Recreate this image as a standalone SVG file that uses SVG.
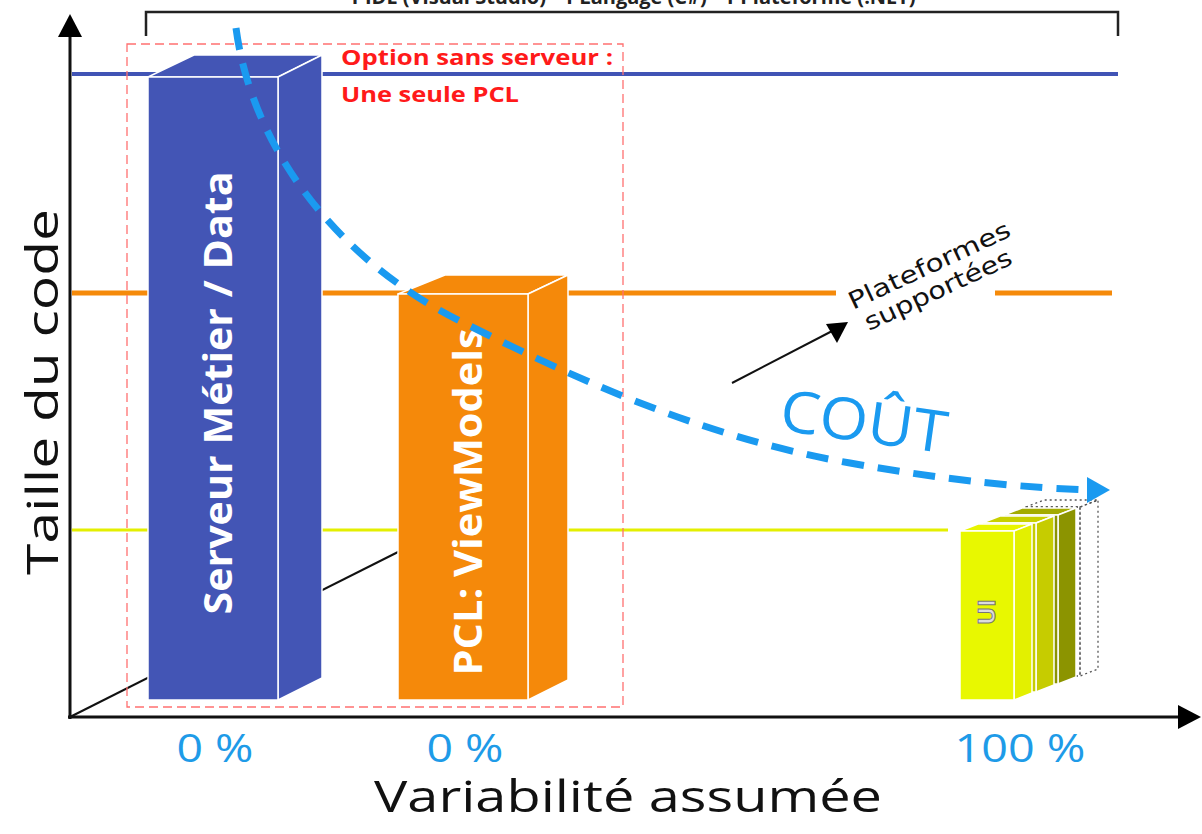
<svg xmlns="http://www.w3.org/2000/svg" width="1202" height="834" viewBox="0 0 1202 834">
<defs>
<style>
.sans{font-family:"Open Sans","Noto Sans","Liberation Sans",sans-serif;}
.bar{stroke:#ffffff;stroke-width:1.5;stroke-linejoin:round;}
.lbl{font-family:"Open Sans","Noto Sans","Liberation Sans",sans-serif;font-weight:bold;fill:#ffffff;}
.pct{font-family:"Open Sans","Noto Sans","Liberation Sans",sans-serif;fill:#1e9be8;font-size:38px;}
.red{font-family:"Open Sans","Noto Sans","Liberation Sans",sans-serif;font-weight:bold;fill:#ff1a1a;font-size:21px;}
.plat{font-family:"DejaVu Sans","Liberation Sans",sans-serif;font-size:24px;fill:#111;}
</style>
</defs>
<rect width="1202" height="834" fill="#ffffff"/>

<!-- top bracket and clipped heading -->
<g id="bracket">
<path d="M146,36 V12 H1118 V36" fill="none" stroke="#222" stroke-width="2.5"/>
<text class="sans" x="632" y="4" font-size="20" font-weight="bold" text-anchor="middle" fill="#222">1 IDE (Visual Studio) - 1 Langage (C#) - 1 Plateforme (.NET)</text>
</g>

<!-- level lines -->
<g id="levels">
<line x1="72" y1="74" x2="1118" y2="74" stroke="#4154b5" stroke-width="4"/>
<line x1="72" y1="293" x2="836" y2="293" stroke="#f58a0a" stroke-width="5"/>
<line x1="995" y1="293" x2="1112" y2="293" stroke="#f58a0a" stroke-width="5"/>
<line x1="72" y1="530" x2="948" y2="530" stroke="#e4ef00" stroke-width="3"/>
<line x1="70" y1="717" x2="400" y2="551" stroke="#111" stroke-width="2"/>
</g>

<!-- red dashed zone -->
<g id="zone">
<rect x="127" y="44" width="496" height="663" fill="none" stroke="#ff7070" stroke-width="1.3" stroke-dasharray="9 5"/>
<text class="red" x="341" y="65" textLength="272" lengthAdjust="spacingAndGlyphs">Option sans serveur :</text>
<text class="red" x="341" y="102" textLength="178" lengthAdjust="spacingAndGlyphs">Une seule PCL</text>
</g>

<!-- Bar 1 -->
<g id="bar-serveur">
<polygon class="bar" points="148,77 194,55 322,55 278,77" fill="#4355b5"/>
<polygon class="bar" points="278,77 322,55 322,678 278,700" fill="#4355b5"/>
<rect class="bar" x="148" y="77" width="130" height="623" fill="#4355b5"/>
<text class="lbl" transform="translate(232,393) rotate(-90)" font-size="40" text-anchor="middle" textLength="443" lengthAdjust="spacingAndGlyphs">Serveur Métier / Data</text>
</g>

<!-- Bar 2 -->
<g id="bar-pcl">
<polygon class="bar" points="398,294 445,275 568,275 528,294" fill="#f5890a"/>
<polygon class="bar" points="528,294 568,275 568,680 528,700" fill="#f5890a"/>
<rect class="bar" x="398" y="294" width="130" height="406" fill="#f5890a"/>
<text class="lbl" transform="translate(482,502) rotate(-90)" font-size="40" text-anchor="middle" textLength="347" lengthAdjust="spacingAndGlyphs">PCL: ViewModels</text>
</g>

<!-- UI bars -->
<g id="bar-ui">
<g fill="none" stroke="#555" stroke-width="1.3" stroke-dasharray="2 3">
<polygon points="1026,507 1044,500 1098,500 1080,507"/>
<polygon points="1080,507 1098,500 1098,669 1080,676"/>
<rect x="1026" y="507" width="54" height="169"/>
</g>
<polygon class="bar" points="1004,515 1022,508 1076,508 1058,515" fill="#a3ab00"/>
<polygon class="bar" points="1058,515 1076,508 1076,677 1058,684" fill="#8c9400"/>
<rect class="bar" x="1004" y="515" width="54" height="169" fill="#8c9400"/>
<polygon class="bar" points="982,523 1000,516 1054,516 1036,523" fill="#c8d000"/>
<polygon class="bar" points="1036,523 1054,516 1054,685 1036,692" fill="#c6cc00"/>
<rect class="bar" x="982" y="523" width="54" height="169" fill="#c6cc00"/>
<polygon class="bar" points="960,531 978,524 1032,524 1014,531" fill="#e8f500"/>
<polygon class="bar" points="1014,531 1032,524 1032,693 1014,700" fill="#e3f000"/>
<rect class="bar" x="960" y="531" width="54" height="169" fill="#e8f800"/>
<text transform="translate(995,612) rotate(-90)" class="sans" font-size="24" font-weight="bold" text-anchor="middle" fill="#dcdcdc" stroke="#777" stroke-width="1">UI</text>
</g>

<!-- connectors -->
<g id="connectors">
<line x1="70" y1="719" x2="70" y2="34" stroke="#111" stroke-width="3"/>
<polygon points="58,37 82,37 70,14" fill="#000"/>
<line x1="68" y1="717" x2="1180" y2="717" stroke="#111" stroke-width="3"/>
<polygon points="1178,705 1178,729 1201,717" fill="#000"/>
<path d="M236,28 C252,150 340,262 462,322 C570,376 700,437 850,463 C950,481 1030,488 1090,490" fill="none" stroke="#1a9af0" stroke-width="7" stroke-dasharray="22 14"/>
<polygon points="1087,477 1110,490 1087,503" fill="#1a9af0"/>
<line x1="732" y1="383" x2="836" y2="329" stroke="#111" stroke-width="2"/>
<polygon points="848,322 826,324 837,343" fill="#000"/>
</g>

<!-- labels -->
<g id="labels">
<text class="sans" transform="translate(58,392) rotate(-90)" font-size="44" text-anchor="middle" fill="#111" textLength="366" lengthAdjust="spacingAndGlyphs">Taille du code</text>
<text class="sans" x="628" y="812" font-size="44" text-anchor="middle" fill="#111" textLength="508" lengthAdjust="spacingAndGlyphs">Variabilité assumée</text>
<text class="pct" x="215" y="762" text-anchor="middle" textLength="77" lengthAdjust="spacingAndGlyphs">0 %</text>
<text class="pct" x="465" y="762" text-anchor="middle" textLength="77" lengthAdjust="spacingAndGlyphs">0 %</text>
<text class="pct" x="1020" y="762" text-anchor="middle" textLength="131" lengthAdjust="spacingAndGlyphs">100 %</text>
<text class="sans" transform="translate(778,430) rotate(8)" font-size="58" fill="#1a9af0" textLength="168" lengthAdjust="spacingAndGlyphs">COÛT</text>
<text class="plat" transform="translate(853,310) rotate(-25)" textLength="176" lengthAdjust="spacingAndGlyphs">Plateformes</text>
<text class="plat" transform="translate(869,331) rotate(-25)" textLength="160" lengthAdjust="spacingAndGlyphs">supportées</text>
</g>
</svg>
